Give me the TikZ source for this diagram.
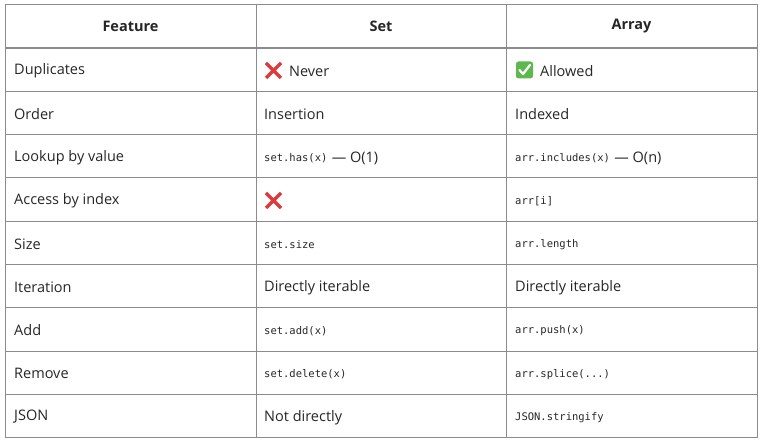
\documentclass[tikz,border=0pt]{standalone}
\usepackage{fontspec}
\setmainfont{Open Sans}
\setmonofont{DejaVu Sans Mono}
\begin{document}
\begin{tikzpicture}[x=1pt,y=-1pt,
  grid/.style={draw=black!45,line width=1pt},
  cell/.style={anchor=west,inner sep=0pt,font=\fontsize{14.5}{16}\selectfont,text=black!85,yshift=-1pt},
  code/.style={anchor=west,inner sep=0pt,font=\ttfamily\fontsize{10.5}{12}\selectfont,text=black!85,yshift=-1pt},
  head/.style={anchor=center,inner sep=0pt,font=\bfseries\fontsize{14.5}{16}\selectfont,text=black!85},
  ]
\useasboundingbox (0,0) rectangle (766,443);
% grid
\draw[grid] (5,5) rectangle (757,438);
\foreach \y in {92,135,178,222,265,308,352,395}{\draw[grid] (5,\y) -- (757,\y);}
\draw[draw=black!45,line width=2.5pt] (5,48) -- (757,48);
\draw[grid] (256,5) -- (256,438);
\draw[grid] (506,5) -- (506,438);
% header
\node[head] (h1) at (130.5,26) {Feature};
\node[head] (h2) at (381,26) {Set};
\node[head] (h3) at (631.5,26) {Array};
% col 1
\foreach \t [count=\i] in {Duplicates,Order,Lookup by value,Access by index,Size,Iteration,Add,Remove,JSON}{
  \pgfmathsetmacro\yy{48+(\i-0.5)*43.3}
  \node[cell] (f\i) at (14,\yy) {\t};
}
% emoji drawings
\definecolor{xred}{HTML}{DD3B3B}
\definecolor{cgreen}{HTML}{5DB94F}
\draw[xred,line width=3.2pt] (266,63) -- (281,78) (281,63) -- (266,78);
\draw[xred,line width=3.2pt] (266,193) -- (281,208) (281,193) -- (266,208);
\fill[cgreen,rounded corners=2.5pt] (516,61.5) rectangle (533,78.5);
\draw[white,line width=2.2pt,line cap=round,line join=round] (519.5,70) -- (523,74) -- (530,65);
% col 2
\node[cell] (s1) at (289,70) {Never};
\node[cell] (s2) at (264,113.5) {Insertion};
\node[code] (s3) at (264,157) {set.has(x)};
\node[cell] (s3b) at (s3.east) [anchor=west,xshift=4pt,yshift=1pt] {— O(1)};
\node[code] (s5) at (264,243.5) {set.size};
\node[cell] (s6) at (264,287) {Directly iterable};
\node[code] (s7) at (264,330) {set.add(x)};
\node[code] (s8) at (264,373.5) {set.delete(x)};
\node[cell] (s9) at (264,416.5) {Not directly};
% col 3
\node[cell] (a1) at (540,70) {Allowed};
\node[cell] (a2) at (515,113.5) {Indexed};
\node[code] (a3) at (515,157) {arr.includes(x)};
\node[cell] (a3b) at (a3.east) [anchor=west,xshift=4pt,yshift=1pt] {— O(n)};
\node[code] (a4) at (515,200) {arr[i]};
\node[code] (a5) at (515,243.5) {arr.length};
\node[cell] (a6) at (515,287) {Directly iterable};
\node[code] (a7) at (515,330) {arr.push(x)};
\node[code] (a8) at (515,373.5) {arr.splice(...)};
\node[code] (a9) at (515,416.5) {JSON.stringify};
\end{tikzpicture}
\end{document}
